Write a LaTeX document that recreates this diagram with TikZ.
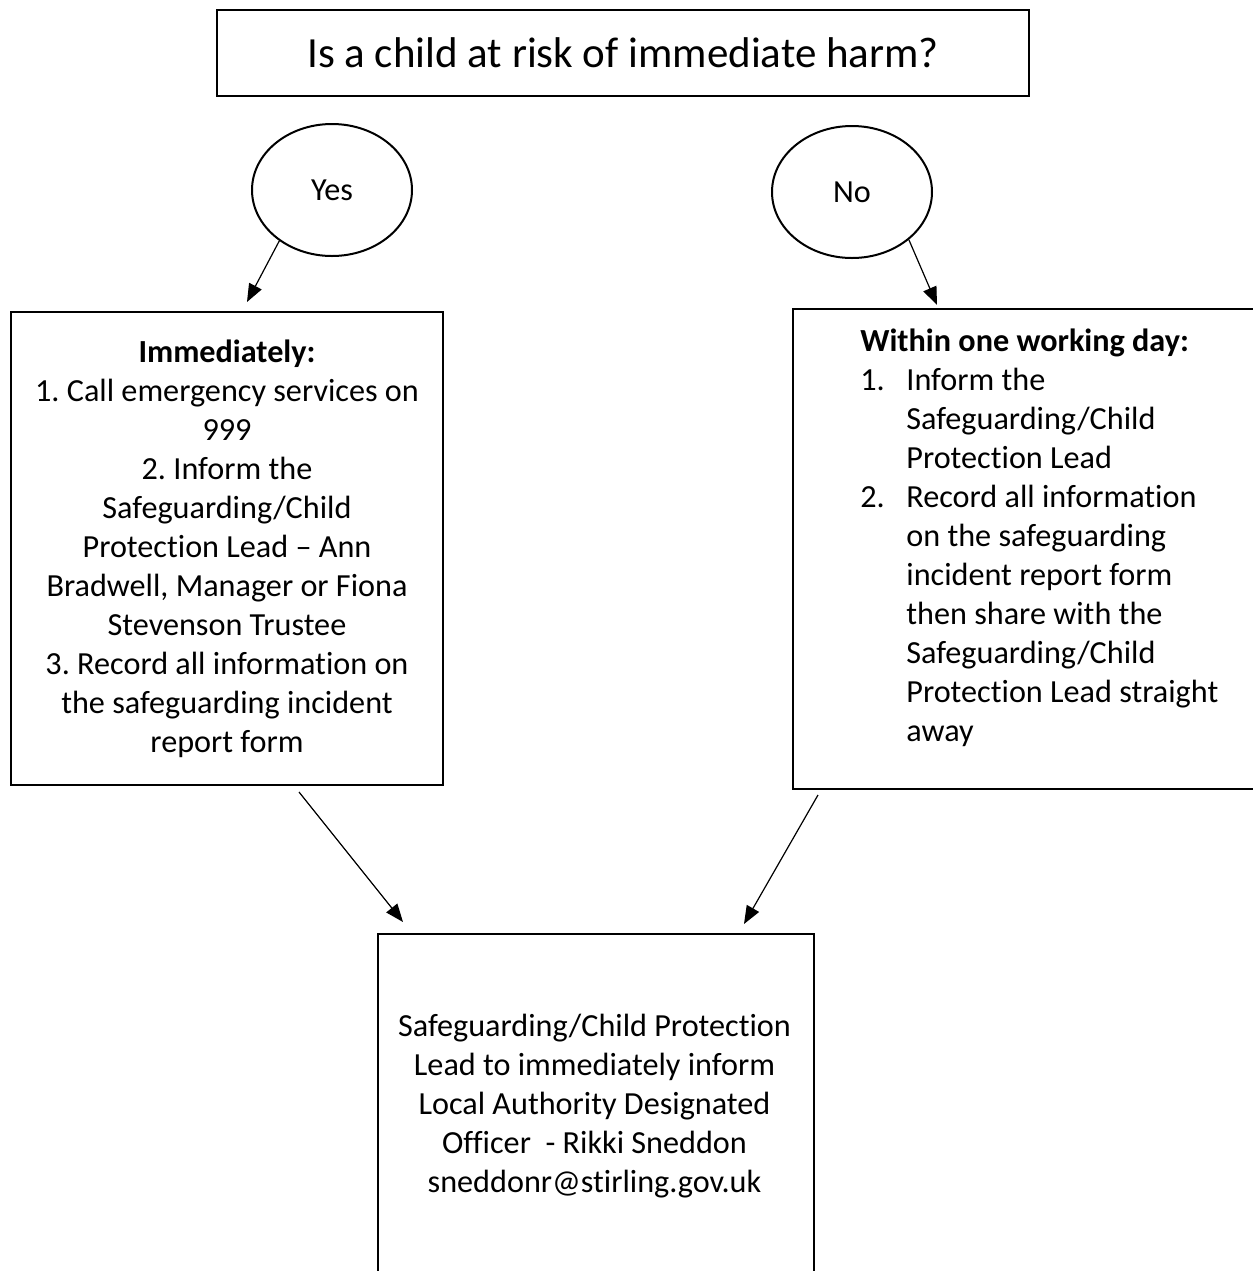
\documentclass[tikz,border=0pt]{standalone}
\usepackage{fontspec}
\setmainfont[RawFeature = {-liga,-clig,-calt,-dlig}]{Carlito}
\frenchspacing
\usetikzlibrary{shapes.geometric, arrows.meta}

\newcommand{\stepnum}[1]{\makebox[23pt][l]{#1}}
\newcommand{\stepgap}{\hspace*{23pt}}

\tikzset{
    box/.style = {draw, line width = 1.2pt, inner sep = 0pt},
    answer/.style = {draw, ellipse, line width = 1pt, inner sep = 0pt, minimum width = 80pt, minimum height = 66pt, font = \fontsize{16.1}{19.5}\selectfont},
    body/.style = {inner sep = 0pt, font = \fontsize{16.1}{19.5}\selectfont},
    flow/.style = {-{Triangle[length = 9pt, width = 7pt]}, line width = 0.6pt}
}

\begin{document}
\begin{tikzpicture}[x = 0.5pt, y = -0.5pt]
    \useasboundingbox (0, 0) rectangle (1253, 1271);
    \node [box, minimum width = 406pt, minimum height = 43pt, font = \fontsize{21.5}{25}\selectfont] (question) at (623, 53) {Is a child at risk of immediate harm?};
    \node [answer] (yes) at (332, 190) {Yes};
    \node [answer] (no) at (852, 192) {No};
    \node [box, body, minimum width = 216pt, minimum height = 236.5pt, align = center] (immediate) at (227, 548.5) {\textbf{Immediately:}\\
        1. Call emergency services on\\ 999\\ 2. Inform the\\ Safeguarding/Child\\ Protection Lead -- Ann\\ Bradwell, Manager or Fiona\\ Stevenson Trustee\\
        3. Record all information on\\ the safeguarding incident\\ report form};
    \node [box, anchor = north west, minimum width = 240pt, minimum height = 240pt] (oneday) at (792, 308) {};
    \node [body, anchor = north west, align = left] (onedaytext) at (860, 328.5) {\textbf{Within one working day:}\\
        \stepnum{1.}Inform the\\ \stepgap Safeguarding/Child\\ \stepgap Protection Lead\\
        \stepnum{2.}Record all information\\ \stepgap on the safeguarding\\ \stepgap incident report form\\ \stepgap then share with the\\ \stepgap Safeguarding/Child\\ \stepgap Protection Lead straight\\ \stepgap away};
    \node [box, anchor = north west, minimum width = 218pt, minimum height = 180pt] (designated) at (377, 933) {};
    \node [body, align = center] (designatedtext) at (594.5, 1106) {Safeguarding/Child Protection\\ Lead to immediately inform\\ Local Authority Designated\\ Officer\ \ - Rikki Sneddon\\ sneddonr@stirling.gov.uk};
    \coordinate (yestip) at (247, 302);
    \coordinate (notip) at (937, 305);
    \coordinate (immediatefoot) at (299, 792);
    \coordinate (onedayfoot) at (818, 795);
    \coordinate (lefttip) at (403, 922);
    \coordinate (righttip) at (744, 924);
    \draw [flow] (yes.224) -- (yestip);
    \draw [flow] (no.320) -- (notip);
    \draw [flow] (immediatefoot) -- (lefttip);
    \draw [flow] (onedayfoot) -- (righttip);
\end{tikzpicture}
\end{document}
